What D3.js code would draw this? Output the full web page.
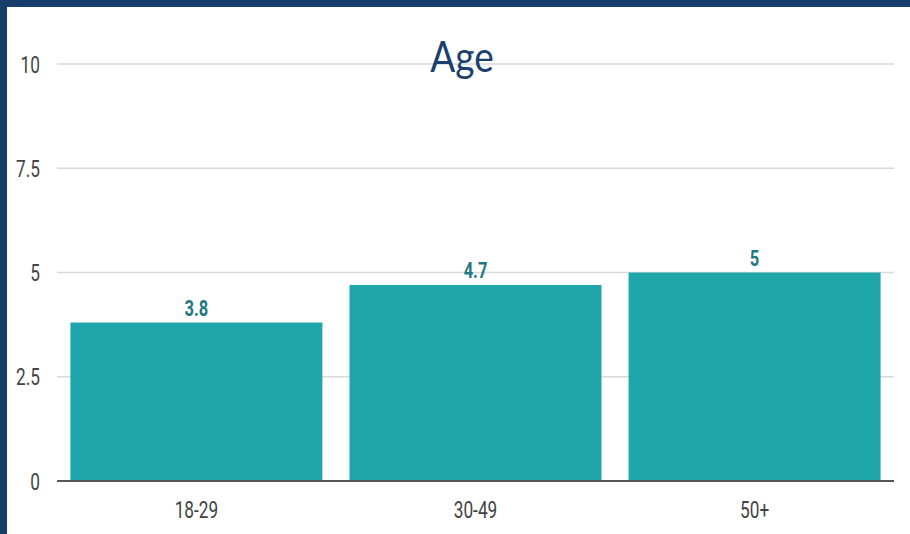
<!DOCTYPE html>
<html lang="en">
<head>
    <meta charset="UTF-8">
    <title>Age</title>
    <script src="https://d3js.org/d3.v7.min.js"></script>
    <style>
        body { margin: 0; background: #fff; }
    </style>
</head>
<body>
    <svg></svg>
    <script>
        const categories = ["18-29", "30-49", "50+"];
        const values = [3.8, 4.7, 5];
        const yTicks = [0, 2.5, 5, 7.5, 10];
        const yTickLabels = ["0", "2.5", "5", "7.5", "10"];

        const svgWidth = 910;
        const svgHeight = 534;
        const plotLeft = 57, plotRight = 894, plotTop = 64, plotBottom = 481;
        const squeeze = 0.75; // labels in the original look condensed

        const svg = d3.select('svg')
            .attr("width", svgWidth)
            .attr("height", svgHeight)
            .style("display", "block");

        // frame: navy band on top and left
        svg.append("rect").attr("x", 0).attr("y", 0).attr("width", svgWidth).attr("height", 7).attr("fill", "#173e6b");
        svg.append("rect").attr("x", 0).attr("y", 0).attr("width", 7).attr("height", svgHeight).attr("fill", "#173e6b");

        const xScale = d3.scaleBand()
            .domain(categories)
            .range([plotLeft, plotRight])
            .paddingInner(0.097)
            .paddingOuter(0.048);

        const yScale = d3.scaleLinear()
            .domain([0, 10])
            .range([plotBottom, plotTop]);

        // gridlines
        svg.selectAll(".grid")
            .data(yTicks.filter(d => d > 0))
            .enter()
            .append("line")
            .attr("x1", plotLeft)
            .attr("x2", plotRight)
            .attr("y1", d => yScale(d))
            .attr("y2", d => yScale(d))
            .attr("stroke", "#d9d9d9")
            .attr("stroke-width", 1.5);

        // y labels
        svg.selectAll(".ylab")
            .data(yTicks)
            .enter()
            .append("text")
            .attr("transform", d => `translate(40,${yScale(d) + 8.5}) scale(${squeeze},1)`)
            .attr("text-anchor", "end")
            .attr("font-family", "Roboto, sans-serif")
            .attr("font-size", 23)
            .attr("fill", "#444")
            .text((d, i) => yTickLabels[i]);

        svg.selectAll(".bar")
            .data(values)
            .enter()
            .append("rect")
            .attr("x", (d, i) => xScale(categories[i]))
            .attr("y", d => yScale(d))
            .attr("width", xScale.bandwidth())
            .attr("height", d => yScale(0) - yScale(d))
            .attr("fill", "#1fa6aa");

        svg.selectAll(".val")
            .data(values)
            .enter()
            .append("text")
            .attr("transform", (d, i) => `translate(${xScale(categories[i]) + xScale.bandwidth() / 2},${yScale(d) - 7}) scale(${squeeze},1)`)
            .attr("text-anchor", "middle")
            .attr("font-family", "Roboto, sans-serif")
            .attr("font-weight", "bold")
            .attr("font-size", 22)
            .attr("fill", "#1d7a7f")
            .text(d => d);

        // baseline
        svg.append("line")
            .attr("x1", plotLeft)
            .attr("x2", plotRight)
            .attr("y1", yScale(0))
            .attr("y2", yScale(0))
            .attr("stroke", "#555")
            .attr("stroke-width", 2);

        svg.selectAll(".xlab")
            .data(categories)
            .enter()
            .append("text")
            .attr("transform", d => `translate(${xScale(d) + xScale.bandwidth() / 2},518) scale(${squeeze},1)`)
            .attr("text-anchor", "middle")
            .attr("font-family", "Roboto, sans-serif")
            .attr("font-size", 23)
            .attr("fill", "#444")
            .text(d => d);

        svg.append("text")
            .attr("transform", "translate(462,72) scale(0.88,1)")
            .attr("text-anchor", "middle")
            .attr("font-family", "Lato, sans-serif")
            .attr("font-size", 42)
            .attr("fill", "#1b3f6e")
            .text("Age");
    </script>
</body>
</html>
